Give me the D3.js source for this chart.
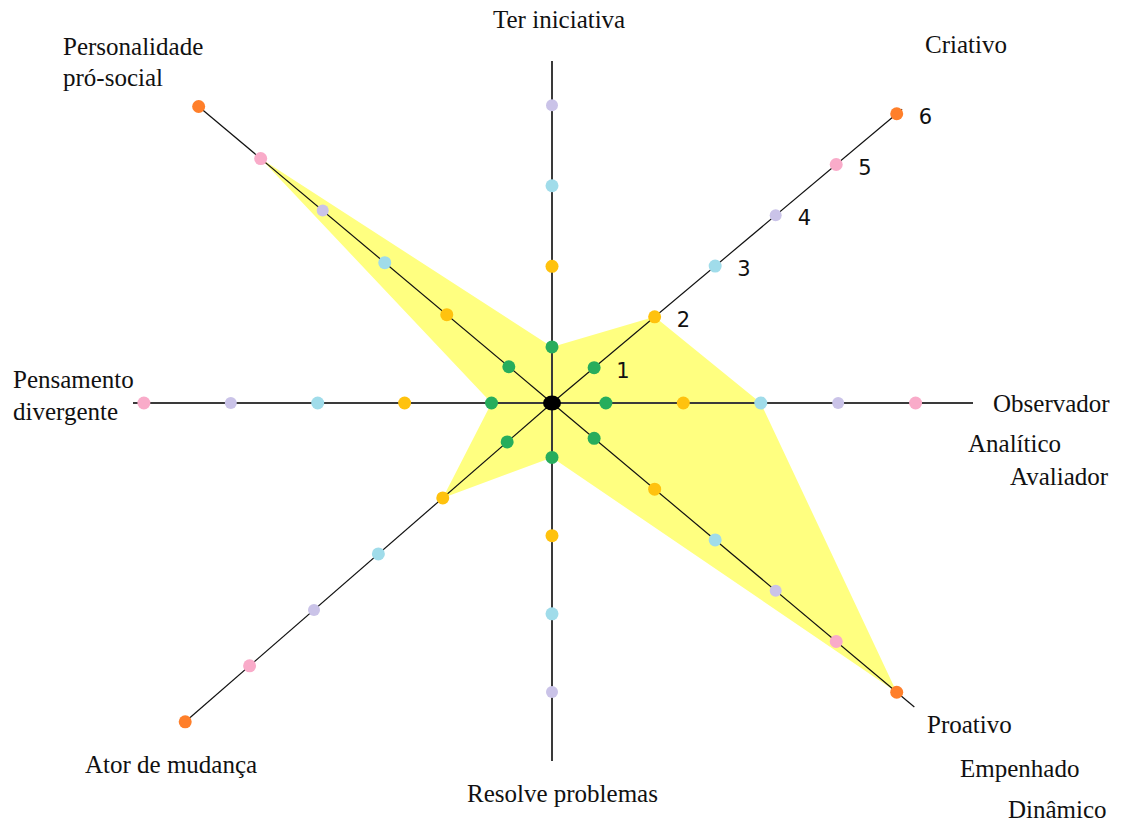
<!DOCTYPE html>
<html><head><meta charset="utf-8">
<script src="https://cdn.jsdelivr.net/npm/d3@7"></script>
<style>body{margin:0;background:#fff}</style>
</head><body><svg id="c" width="1124" height="822"></svg>
<script>
// ---- data ----
const axisNames = [
  ["Observador","Analítico","Avaliador"],
  ["Criativo"],
  ["Ter iniciativa"],
  ["Personalidade","pró-social"],
  ["Pensamento","divergente"],
  ["Ator de mudança"],
  ["Resolve problemas"],
  ["Proativo","Empenhado","Dinâmico"]
];
const axisAngles = [0, 40, 90, 140, 180, 221, 270, 320];
const axisLevels = [5, 6, 4, 6, 5, 6, 4, 6];
const scores     = [3, 2, 1, 5, 1, 2, 1, 6];
const levels     = [1, 2, 3, 4, 5, 6];
const levelColors = ["#27ad5c","#ffc20e","#a0dcea","#cac3e8","#f9abc9","#ff7f2a"];
const tickLabels = ["1","2","3","4","5","6"];

// ---- layout ----
const cx = 552, cy = 403;
const stretch = [0.98, 1, 1.02, 1.025, 1.1, 1.08, 0.99, 1];
const axisLen = [421, 457, 342, 461, 419, 484, 358, 473];
const labelPos = [
  [[993,412],[968,452],[1010,485]],
  [[925,53]],
  [[493,28]],
  [[63,55],[63,86]],
  [[13,388],[13,420]],
  [[85,773]],
  [[467,802]],
  [[927,733],[960,777],[1008,818]]
];

const svg = d3.select("#c");
const r = d3.scaleLinear().domain([0, 1, 6]).range([0, 55, 450]);
const ang = d3.scaleLinear().domain([0, 360]).range([0, 2 * Math.PI]);
function pt(i, v) {
  const a = ang(axisAngles[i]);
  const rr = r(v) * stretch[i];
  return [cx + rr * Math.cos(a), cy - rr * Math.sin(a)];
}
function endPt(i) {
  const a = ang(axisAngles[i]);
  return [cx + axisLen[i] * Math.cos(a), cy - axisLen[i] * Math.sin(a)];
}

// polygon
const line = d3.line().curve(d3.curveLinearClosed);
svg.append("path")
  .attr("d", line(scores.map((v, i) => pt(i, v))))
  .attr("fill", "#ffff80")
  .attr("stroke", "none");

// axes
svg.append("g").selectAll("line").data(axisAngles).join("line")
  .attr("x1", cx).attr("y1", cy)
  .attr("x2", (d, i) => endPt(i)[0])
  .attr("y2", (d, i) => endPt(i)[1])
  .attr("stroke", d => (d % 90 === 0) ? "#3a3a3a" : "#111")
  .attr("stroke-width", d => (d % 90 === 0) ? 2 : 1.2);

// level dots
const dots = [];
axisLevels.forEach((m, i) => levels.filter(l => l <= m).forEach(l => dots.push({i, l})));
svg.append("g").selectAll("circle").data(dots).join("circle")
  .attr("cx", d => pt(d.i, d.l)[0])
  .attr("cy", d => pt(d.i, d.l)[1])
  .attr("r", d => d.l === 4 ? 6 : 6.5)
  .attr("fill", d => levelColors[d.l - 1]);

// center
svg.append("ellipse").attr("cx", cx).attr("cy", cy).attr("rx", 9).attr("ry", 7.5).attr("fill", "#000");

// tick labels along Criativo axis
svg.append("g").selectAll("text").data(levels).join("text")
  .attr("x", l => pt(1, l)[0] + 22)
  .attr("y", l => pt(1, l)[1] + 10)
  .attr("font-family", "DejaVu Sans, Verdana, sans-serif")
  .attr("font-size", 21)
  .attr("fill", "#111")
  .text((l, k) => tickLabels[k]);

// axis labels
const lg = svg.append("g")
  .attr("font-family", "Liberation Serif, Times New Roman, serif")
  .attr("font-size", 25)
  .attr("fill", "#111");
axisNames.forEach((lines, i) => {
  lines.forEach((t, j) => {
    lg.append("text").attr("x", labelPos[i][j][0]).attr("y", labelPos[i][j][1]).text(t);
  });
});
</script>
</body></html>
